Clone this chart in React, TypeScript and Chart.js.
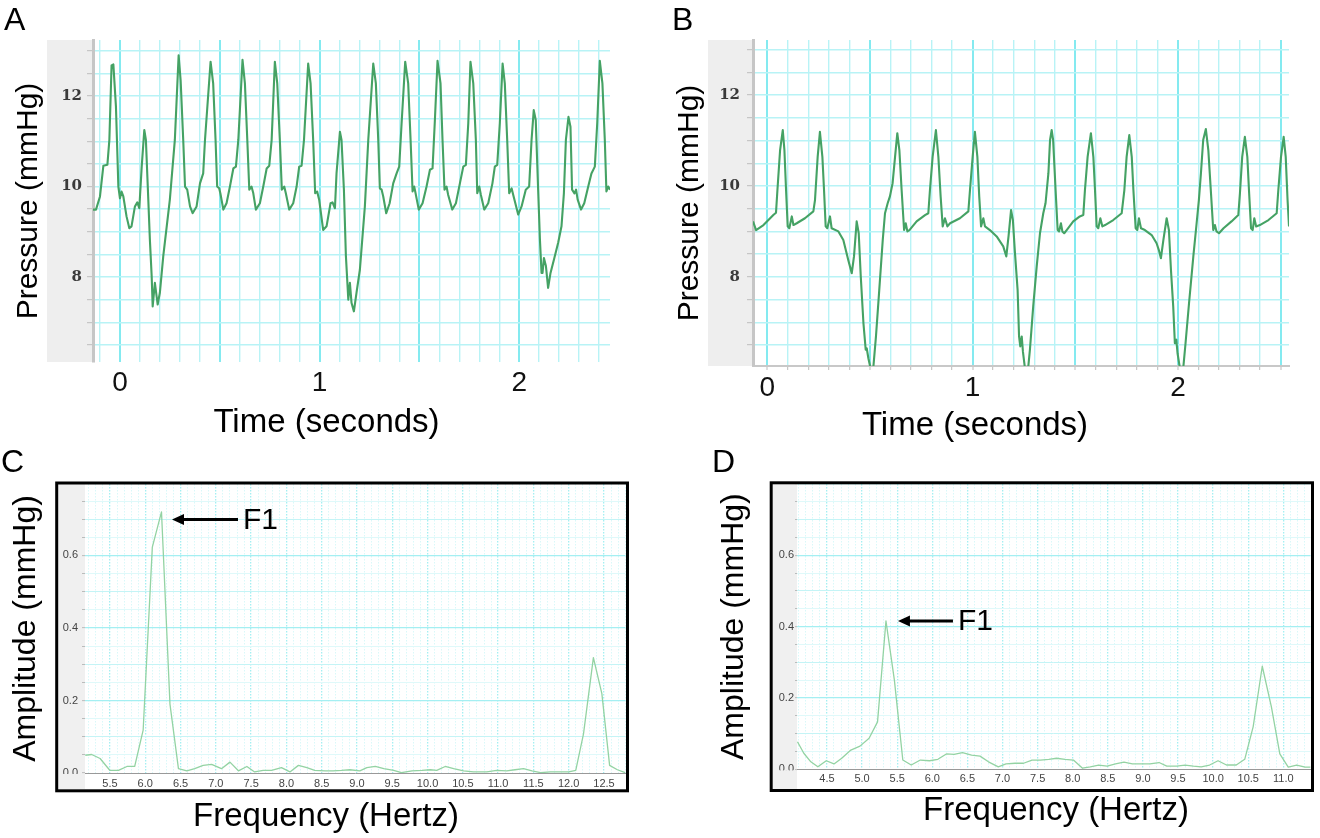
import React, { useEffect, useRef } from 'react';
import { Chart, registerables } from 'chart.js';

Chart.register(...registerables);

const SANS = '"Liberation Sans", Arial, Helvetica, sans-serif';
const SERIF = '"DejaVu Serif", Georgia, serif';

// ---------------- Panel A : pressure trace ----------------
const timeA = [
  -0.135, -0.12, -0.1, -0.083, -0.063, -0.053, -0.042, -0.033, -0.02, -0.008,
  0.0, 0.008, 0.017, 0.033, 0.047, 0.058, 0.075, 0.087, 0.097, 0.109,
  0.122, 0.13, 0.142, 0.15, 0.159, 0.164, 0.175, 0.189, 0.2, 0.217,
  0.25, 0.275, 0.294, 0.304, 0.317, 0.326, 0.337, 0.351, 0.364, 0.384,
  0.401, 0.417, 0.426, 0.454, 0.467, 0.479, 0.487, 0.497, 0.503, 0.518,
  0.534, 0.551, 0.568, 0.581, 0.593, 0.614, 0.626, 0.638, 0.648, 0.659,
  0.668, 0.681, 0.701, 0.718, 0.735, 0.748, 0.76, 0.776, 0.788, 0.801,
  0.811, 0.823, 0.831, 0.848, 0.868, 0.885, 0.898, 0.91, 0.922, 0.943,
  0.955, 0.968, 0.978, 0.988, 0.998, 1.018, 1.035, 1.055, 1.065, 1.077,
  1.085, 1.102, 1.11, 1.122, 1.132, 1.144, 1.152, 1.16, 1.172, 1.185,
  1.202, 1.227, 1.244, 1.269, 1.282, 1.294, 1.302, 1.311, 1.319, 1.334,
  1.351, 1.369, 1.386, 1.399, 1.411, 1.429, 1.444, 1.456, 1.466, 1.474,
  1.481, 1.497, 1.516, 1.536, 1.553, 1.566, 1.577, 1.591, 1.606, 1.616,
  1.626, 1.636, 1.644, 1.665, 1.683, 1.703, 1.72, 1.733, 1.745, 1.756,
  1.77, 1.783, 1.79, 1.8, 1.808, 1.825, 1.845, 1.866, 1.878, 1.89,
  1.903, 1.917, 1.928, 1.94, 1.95, 1.962, 1.97, 1.995, 2.012, 2.033,
  2.05, 2.062, 2.073, 2.083, 2.095, 2.104, 2.112, 2.117, 2.124, 2.134,
  2.145, 2.157, 2.174, 2.195, 2.212, 2.224, 2.234, 2.247, 2.257, 2.265,
  2.277, 2.285, 2.293, 2.31, 2.326, 2.346, 2.362, 2.379, 2.391, 2.404,
  2.417, 2.429, 2.437, 2.446, 2.455,
];
const pressureA = [
  9.49, 9.49, 9.78, 10.46, 10.48, 11.03, 12.68, 12.7, 11.76, 10.0,
  9.74, 9.89, 9.78, 9.34, 9.08, 9.12, 9.56, 9.65, 9.52, 10.44,
  11.25, 11.03, 9.71, 8.82, 8.01, 7.35, 7.87, 7.39, 7.65, 8.46,
  9.71, 11.03, 12.9, 12.35, 11.03, 10.0, 9.93, 9.56, 9.41, 9.56,
  10.07, 10.29, 11.03, 12.76, 12.28, 11.03, 10.0, 9.96, 9.85, 9.49,
  9.63, 10.0, 10.4, 10.44, 11.03, 12.8, 12.28, 11.03, 9.93, 10.0,
  9.85, 9.49, 9.63, 10.0, 10.4, 10.46, 11.03, 12.76, 12.28, 11.03,
  9.93, 10.0, 9.85, 9.49, 9.63, 10.0, 10.44, 10.46, 11.03, 12.72,
  12.28, 11.03, 9.85, 9.89, 9.71, 9.04, 9.12, 9.63, 9.65, 9.52,
  10.29, 11.21, 11.03, 9.93, 8.46, 7.5, 7.87, 7.43, 7.24, 7.65,
  8.16, 9.56, 11.03, 12.72, 12.28, 11.03, 9.96, 9.93, 9.78, 9.41,
  9.63, 10.07, 10.29, 10.44, 11.4, 12.76, 12.28, 11.03, 9.89, 10.0,
  9.85, 9.49, 9.63, 10.0, 10.37, 10.4, 11.4, 12.78, 12.28, 11.03,
  9.93, 10.0, 9.82, 9.49, 9.63, 10.07, 10.44, 10.48, 11.4, 12.76,
  12.28, 11.03, 9.85, 10.0, 9.82, 9.49, 9.63, 10.07, 10.44, 10.48,
  11.4, 12.72, 12.28, 11.03, 9.85, 9.96, 9.82, 9.38, 9.56, 9.93,
  10.0, 11.03, 11.69, 11.47, 9.93, 8.82, 8.09, 8.09, 8.42, 8.24,
  7.76, 8.09, 8.38, 8.75, 9.12, 9.85, 11.03, 11.54, 11.32, 9.93,
  9.85, 9.93, 9.71, 9.49, 9.63, 10.0, 10.29, 10.44, 11.4, 12.78,
  12.28, 11.03, 9.89, 10.0, 9.93,
];

// ---------------- Panel B : pressure trace ----------------
const timeB = [
  -0.07, -0.055, -0.019, 0.029, 0.042, 0.049, 0.062, 0.075, 0.083, 0.091,
  0.099, 0.107, 0.119, 0.127, 0.143, 0.183, 0.224, 0.232, 0.245, 0.256,
  0.268, 0.276, 0.284, 0.292, 0.305, 0.313, 0.346, 0.37, 0.394, 0.411,
  0.422, 0.435, 0.445, 0.455, 0.468, 0.479, 0.484, 0.492, 0.503, 0.516,
  0.529, 0.545, 0.562, 0.573, 0.586, 0.597, 0.61, 0.622, 0.633, 0.643,
  0.654, 0.666, 0.674, 0.682, 0.692, 0.727, 0.768, 0.784, 0.792, 0.805,
  0.821, 0.833, 0.844, 0.854, 0.865, 0.877, 0.89, 0.938, 0.979, 0.987,
  1.0, 1.011, 1.023, 1.032, 1.041, 1.052, 1.06, 1.084, 1.117, 1.149,
  1.164, 1.175, 1.187, 1.196, 1.205, 1.219, 1.226, 1.232, 1.239, 1.245,
  1.255, 1.27, 1.279, 1.295, 1.312, 1.328, 1.344, 1.355, 1.369, 1.377,
  1.385, 1.392, 1.404, 1.414, 1.421, 1.43, 1.437, 1.446, 1.458, 1.49,
  1.522, 1.539, 1.547, 1.56, 1.576, 1.588, 1.596, 1.604, 1.612, 1.622,
  1.632, 1.645, 1.685, 1.726, 1.739, 1.75, 1.763, 1.775, 1.783, 1.794,
  1.802, 1.81, 1.82, 1.839, 1.872, 1.896, 1.907, 1.917, 1.929, 1.945,
  1.956, 1.966, 1.977, 1.985, 1.992, 1.998, 2.01, 2.026, 2.037, 2.054,
  2.075, 2.091, 2.102, 2.112, 2.123, 2.136, 2.148, 2.161, 2.172, 2.18,
  2.188, 2.2, 2.222, 2.261, 2.294, 2.302, 2.313, 2.326, 2.338, 2.346,
  2.356, 2.364, 2.372, 2.381, 2.399, 2.441, 2.481, 2.489, 2.502, 2.515,
  2.525, 2.534, 2.541,
];
const pressureB = [
  9.22, 9.03, 9.14, 9.36, 9.41, 9.91, 10.79, 11.23, 10.79, 9.91,
  9.11, 9.07, 9.33, 9.14, 9.18, 9.29, 9.44, 9.69, 10.64, 11.19,
  10.64, 9.91, 9.11, 9.07, 9.33, 9.07, 9.0, 8.81, 8.37, 8.08,
  8.45, 9.22, 8.96, 8.01, 6.98, 6.4, 6.43, 6.21, 5.98, 6.0,
  6.69, 7.71, 8.81, 9.4, 9.62, 9.77, 10.06, 10.64, 11.16, 10.79,
  9.91, 9.03, 9.18, 9.0, 9.03, 9.22, 9.36, 9.4, 9.91, 10.64,
  11.23, 10.64, 9.77, 9.11, 9.29, 9.11, 9.18, 9.29, 9.44, 9.91,
  10.64, 11.19, 10.64, 9.77, 9.11, 9.29, 9.11, 9.03, 8.89, 8.67,
  8.45, 8.9, 9.47, 9.25, 8.6, 7.71, 6.69, 6.47, 6.69, 6.35,
  5.98, 5.98, 6.4, 7.35, 8.23, 8.96, 9.4, 9.62, 10.28, 11.01,
  11.23, 11.01, 9.91, 9.03, 9.0, 9.18, 9.0, 8.96, 9.03, 9.22,
  9.33, 9.36, 9.91, 10.64, 11.16, 10.64, 9.91, 9.11, 9.07, 9.29,
  9.11, 9.14, 9.25, 9.4, 9.91, 10.64, 11.12, 10.64, 9.91, 9.07,
  9.03, 9.29, 9.07, 9.03, 8.92, 8.74, 8.59, 8.41, 8.81, 9.29,
  9.03, 8.15, 7.35, 6.54, 6.62, 6.32, 5.98, 6.0, 6.54, 7.42,
  8.45, 9.18, 9.69, 10.28, 11.01, 11.25, 10.79, 9.84, 9.03, 9.14,
  9.0, 8.96, 9.07, 9.22, 9.36, 9.84, 10.64, 11.08, 10.64, 9.91,
  9.07, 9.03, 9.29, 9.11, 9.14, 9.25, 9.4, 9.91, 10.64, 11.08,
  10.64, 9.69, 9.11,
];

// ---------------- Panel C : spectrum ----------------
const freqC = [
  5.15, 5.24, 5.36, 5.5, 5.62, 5.74, 5.85, 5.97, 6.1, 6.23,
  6.35, 6.47, 6.59, 6.7, 6.82, 6.94, 7.08, 7.2, 7.32, 7.44,
  7.55, 7.67, 7.79, 7.93, 8.05, 8.17, 8.29, 8.4, 8.55, 8.66,
  8.78, 8.9, 9.04, 9.14, 9.26, 9.38, 9.52, 9.63, 9.78, 9.92,
  10.04, 10.13, 10.25, 10.37, 10.51, 10.65, 10.84, 10.98, 11.12, 11.24,
  11.36, 11.48, 11.6, 11.74, 11.88, 12.0, 12.1, 12.21, 12.35, 12.47,
  12.58, 12.69, 12.8,
];
const ampC = [
  0.049, 0.051, 0.04, 0.007, 0.007, 0.018, 0.018, 0.118, 0.623, 0.72,
  0.19, 0.012, 0.006, 0.012, 0.021, 0.024, 0.012, 0.03, 0.006, 0.018,
  0.003, 0.007, 0.007, 0.015, 0.003, 0.021, 0.015, 0.007, 0.006, 0.006,
  0.007, 0.009, 0.006, 0.015, 0.018, 0.012, 0.007, 0.001, 0.006, 0.007,
  0.009, 0.007, 0.018, 0.012, 0.006, 0.003, 0.003, 0.007, 0.006, 0.009,
  0.012, 0.006, 0.001, 0.003, 0.003, 0.003, 0.007, 0.108, 0.318, 0.219,
  0.021, 0.009, 0.001,
];

// ---------------- Panel D : spectrum ----------------
const freqD = [
  4.08, 4.17, 4.27, 4.37, 4.49, 4.6, 4.71, 4.84, 4.97, 5.1,
  5.22, 5.34, 5.46, 5.58, 5.7, 5.83, 5.96, 6.08, 6.2, 6.31,
  6.43, 6.56, 6.68, 6.8, 6.94, 7.05, 7.18, 7.3, 7.42, 7.54,
  7.66, 7.77, 7.89, 8.01, 8.14, 8.25, 8.37, 8.49, 8.61, 8.73,
  8.85, 8.98, 9.1, 9.23, 9.34, 9.48, 9.6, 9.72, 9.83, 9.95,
  10.07, 10.19, 10.33, 10.45, 10.57, 10.7, 10.83, 10.95, 11.07, 11.19,
  11.31, 11.39,
];
const ampD = [
  0.077, 0.045, 0.021, 0.007, 0.024, 0.015, 0.031, 0.054, 0.065, 0.087,
  0.133, 0.416, 0.25, 0.026, 0.012, 0.026, 0.024, 0.028, 0.043, 0.042,
  0.047, 0.04, 0.037, 0.021, 0.007, 0.015, 0.017, 0.017, 0.026, 0.026,
  0.028, 0.031, 0.028, 0.026, 0.003, 0.007, 0.012, 0.009, 0.015, 0.02,
  0.015, 0.015, 0.015, 0.019, 0.009, 0.009, 0.012, 0.009, 0.007, 0.012,
  0.024, 0.012, 0.012, 0.028, 0.119, 0.289, 0.175, 0.043, 0.006, 0.012,
  0.006, 0.006,
];

// ---------------- tick labels ----------------
const pressureLabels = [8, 10, 12];
const timeLabels = [0, 1, 2];
const ampLabels = [0, 0.2, 0.4, 0.6];
const freqLabelsC = [5.5, 6.0, 6.5, 7.0, 7.5, 8.0, 8.5, 9.0, 9.5, 10.0, 10.5, 11.0, 11.5, 12.0, 12.5];
const freqLabelsD = [4.5, 5.0, 5.5, 6.0, 6.5, 7.0, 7.5, 8.0, 8.5, 9.0, 9.5, 10.0, 10.5, 11.0];

const near = (a: number, b: number) => Math.abs(a - b) < 1e-6;
const isMult = (v: number, m: number) => Math.abs(v / m - Math.round(v / m)) < 1e-6;

function gridTicks(min: number, max: number, step: number) {
  const out: { value: number }[] = [];
  for (let k = Math.ceil(min / step - 1e-9); k * step <= max + 1e-9; k++) {
    out.push({ value: Math.round(k * step * 1e6) / 1e6 });
  }
  return out;
}

type Decor = {
  stripX: number;
  stripColor: string;
  stripTop?: number;
  stripBottom?: number;
  box?: { x: number; y: number; w: number; h: number; lw: number };
  caption: { text: string; x: number; y: number; size: number };
  coverZero?: boolean;
  arrow?: { dx: number; dy: number; len: number; gap: number; text: string; size: number };
};

function decorPlugin(d: Decor) {
  return {
    id: 'panelDecor',
    beforeDraw(chart: any) {
      const { ctx, chartArea } = chart;
      const top = d.stripTop ?? chartArea.top;
      const bottom = d.stripBottom ?? chartArea.bottom;
      ctx.save();
      ctx.fillStyle = d.stripColor;
      ctx.fillRect(d.stripX, top, chartArea.left - d.stripX, bottom - top);
      ctx.restore();
    },
    afterDatasetsDraw(chart: any) {
      if (!d.arrow) return;
      const a = d.arrow;
      const pts = chart.data.datasets[0].data;
      let best = pts[0];
      for (const p of pts) if (p.y > best.y) best = p;
      const px = chart.scales.x.getPixelForValue(best.x) + a.dx;
      const py = chart.scales.y.getPixelForValue(best.y) + a.dy;
      const ctx = chart.ctx;
      ctx.save();
      ctx.strokeStyle = '#000';
      ctx.fillStyle = '#000';
      ctx.lineWidth = 3;
      ctx.beginPath();
      ctx.moveTo(px + 8, py);
      ctx.lineTo(px + a.len, py);
      ctx.stroke();
      ctx.beginPath();
      ctx.moveTo(px, py);
      ctx.lineTo(px + 12, py - 5.5);
      ctx.lineTo(px + 12, py + 5.5);
      ctx.closePath();
      ctx.fill();
      ctx.font = `${a.size}px ${SANS}`;
      ctx.textAlign = 'left';
      ctx.textBaseline = 'middle';
      ctx.fillText(a.text, px + a.len + a.gap, py + 1);
      ctx.restore();
    },
    afterDraw(chart: any) {
      const { ctx, chartArea } = chart;
      ctx.save();
      if (d.coverZero) {
        ctx.fillStyle = d.stripColor;
        ctx.fillRect(d.stripX, chartArea.bottom + 1, chartArea.left - d.stripX - 1, 9);
      }
      ctx.fillStyle = '#000';
      ctx.font = `${d.caption.size}px ${SANS}`;
      ctx.textAlign = 'center';
      ctx.textBaseline = 'middle';
      ctx.fillText(d.caption.text, d.caption.x, d.caption.y);
      if (d.box) {
        ctx.strokeStyle = '#000';
        ctx.lineWidth = d.box.lw;
        ctx.strokeRect(d.box.x, d.box.y, d.box.w, d.box.h);
      }
      ctx.restore();
    },
  };
}

type AxisSpec = {
  min: number;
  max: number;
  step: number;
  labels: number[];
  fmt: (v: number) => string;
  gridColor: (v: number) => string;
  gridWidth: (v: number) => number;
  tickFont: any;
  tickColor: string;
  tickPad: number;
  tickLen: number;
  tickMarkColor: string;
  border: any;
  size: number;
  title?: { text: string; size: number };
};

type PanelSpec = {
  xs: number[];
  ys: number[];
  line: { color: string; width: number };
  padding: { left: number; top: number; right: number; bottom: number };
  x: AxisSpec;
  y: AxisSpec;
  decor: Decor;
};

function axisOptions(a: AxisSpec, horizontal: boolean) {
  return {
    type: 'linear',
    bounds: 'data',
    min: a.min,
    max: a.max,
    afterBuildTicks: (sc: any) => {
      sc.ticks = gridTicks(a.min, a.max, a.step);
    },
    afterFit: (sc: any) => {
      if (horizontal) sc.height = a.size;
      else sc.width = a.size;
    },
    ticks: {
      autoSkip: false,
      maxRotation: 0,
      minRotation: 0,
      padding: a.tickPad,
      color: a.tickColor,
      font: a.tickFont,
      callback: (v: any) => (a.labels.some((l) => near(l, Number(v))) ? a.fmt(Number(v)) : ''),
    },
    grid: {
      color: (c: any) => (c.tick ? a.gridColor(c.tick.value) : 'transparent'),
      lineWidth: (c: any) => (c.tick ? a.gridWidth(c.tick.value) : 1),
      drawTicks: a.tickLen > 0,
      tickLength: a.tickLen,
      tickColor: a.tickMarkColor,
      tickWidth: 1,
    },
    border: a.border,
    title: a.title
      ? {
          display: true,
          text: a.title.text,
          color: '#000',
          font: { family: SANS, size: a.title.size },
          padding: { top: 0, bottom: 0 },
        }
      : { display: false },
  };
}

function buildConfig(s: PanelSpec): any {
  const n = Math.min(s.xs.length, s.ys.length);
  const pts = [];
  for (let i = 0; i < n; i++) pts.push({ x: s.xs[i], y: s.ys[i] });
  return {
    type: 'line',
    data: {
      datasets: [
        {
          data: pts,
          borderColor: s.line.color,
          borderWidth: s.line.width,
          pointRadius: 0,
          pointHoverRadius: 0,
          tension: 0,
          fill: false,
          borderJoinStyle: 'round',
        },
      ],
    },
    options: {
      responsive: false,
      maintainAspectRatio: false,
      animation: false,
      devicePixelRatio: 1,
      events: [],
      layout: { padding: s.padding },
      plugins: { legend: { display: false }, tooltip: { enabled: false }, title: { display: false } },
      scales: { x: axisOptions(s.x, true), y: axisOptions(s.y, false) },
    },
    plugins: [decorPlugin(s.decor)],
  };
}

// ---------- shared styles ----------
const CYAN_MAJOR = '#84eaf0';
const CYAN_MINOR = '#b8f3f6';
const fmtInt = (v: number) => String(Math.round(v));
const fmt1 = (v: number) => v.toFixed(1);

const pressureY = (min: number, max: number, size: number, pad: number): AxisSpec => ({
  min,
  max,
  step: 0.5,
  labels: pressureLabels,
  fmt: fmtInt,
  gridColor: () => CYAN_MINOR,
  gridWidth: () => 1.4,
  tickFont: { family: SERIF, size: 15, weight: 'bold' },
  tickColor: '#3a3a3a',
  tickPad: pad,
  tickLen: 6,
  tickMarkColor: '#bdbdbd',
  border: { display: true, color: '#c6c6c6', width: 3 },
  size,
  title: { text: 'Pressure (mmHg)', size: 30 },
});

const timeX = (min: number, max: number, pad: number, len: number, border: any): AxisSpec => ({
  min,
  max,
  step: 0.1,
  labels: timeLabels,
  fmt: fmtInt,
  gridColor: (v) => (isMult(v, 0.5) ? CYAN_MAJOR : CYAN_MINOR),
  gridWidth: (v) => (isMult(v, 0.5) ? 2 : 1.4),
  tickFont: { family: SANS, size: 28 },
  tickColor: '#111',
  tickPad: pad,
  tickLen: len,
  tickMarkColor: '#bbbbbb',
  border,
  size: 40,
});

const freqX = (min: number, max: number, labels: number[], pad: number): AxisSpec => ({
  min,
  max,
  step: 0.1,
  labels,
  fmt: fmt1,
  gridColor: (v) => (isMult(v, 0.5) ? '#a4eff2' : '#d9f8f9'),
  gridWidth: (v) => (isMult(v, 0.5) ? 1.3 : 1),
  tickFont: { family: SANS, size: 11 },
  tickColor: '#444',
  tickPad: pad,
  tickLen: 0,
  tickMarkColor: '#bbb',
  border: { display: true, color: '#999', width: 1, dash: [1.5, 1.5] },
  size: 30,
});

const ampY = (max: number, size: number, pad: number, len: number): AxisSpec => ({
  min: 0,
  max,
  step: 0.05,
  labels: ampLabels,
  fmt: fmt1,
  gridColor: (v) => (v < 1e-6 ? 'transparent' : isMult(v, 0.2) ? '#a4eff2' : isMult(v, 0.1) ? '#c4f4f6' : '#dff9fa'),
  gridWidth: (v) => (isMult(v, 0.2) ? 1.3 : 1),
  tickFont: { family: SANS, size: 11 },
  tickColor: '#444',
  tickPad: pad,
  tickLen: len,
  tickMarkColor: '#bbbbbb',
  border: { display: false },
  size,
  title: { text: 'Amplitude (mmHg)', size: 32 },
});

const specA: PanelSpec = {
  xs: timeA,
  ys: pressureA,
  line: { color: '#45a264', width: 2.1 },
  padding: { left: 10.3, top: 40, right: 30, bottom: 43 },
  x: timeX(-0.135, 2.455, 4, 0, { display: false }),
  y: pressureY(6.12, 13.24, 82.7, 5),
  decor: { stripX: 47, stripColor: '#eeeeee', caption: { text: 'Time (seconds)', x: 326.5, y: 422.5, size: 33 } },
};

const specB: PanelSpec = {
  xs: timeB,
  ys: pressureB,
  line: { color: '#45a264', width: 2.1 },
  padding: { left: 12, top: 40, right: 31, bottom: 39 },
  x: timeX(-0.07, 2.541, 1, 4, { display: true, color: '#c8c8c8', width: 2 }),
  y: pressureY(6.04, 13.21, 81, 7),
  decor: { stripX: 48, stripColor: '#eeeeee', caption: { text: 'Time (seconds)', x: 315, y: 426, size: 33 } },
};

const specC: PanelSpec = {
  xs: freqC,
  ys: ampC,
  line: { color: '#93d3a3', width: 1.3 },
  padding: { left: 6.5, top: 39, right: 34.5, bottom: 35 },
  x: freqX(5.146, 12.805, freqLabelsC, 4),
  y: ampY(0.797, 78.5, 4, 3),
  decor: {
    stripX: 58,
    stripColor: '#f0f0f0',
    stripTop: 39,
    stripBottom: 344,
    box: { x: 56.7, y: 38, w: 570.8, h: 307.8, lw: 3 },
    caption: { text: 'Frequency (Hertz)', x: 326, y: 372, size: 33 },
    coverZero: true,
    arrow: { dx: 10.5, dy: 7.5, len: 66, gap: 5, text: 'F1', size: 30 },
  },
};

const specD: PanelSpec = {
  xs: freqD,
  ys: ampD,
  line: { color: '#93d3a3', width: 1.3 },
  padding: { left: 55, top: 39, right: 9.5, bottom: 38.7 },
  x: freqX(4.073, 11.387, freqLabelsD, 3),
  y: ampY(0.8, 82, 1, 2),
  decor: {
    stripX: 113,
    stripColor: '#f0f0f0',
    stripTop: 39,
    stripBottom: 344,
    box: { x: 111.2, y: 37.8, w: 541.3, h: 307.7, lw: 3 },
    caption: { text: 'Frequency (Hertz)', x: 396, y: 366, size: 33 },
    coverZero: true,
    arrow: { dx: 12, dy: 0, len: 55, gap: 5, text: 'F1', size: 30 },
  },
};

function ChartCanvas(props: { left: number; top: number; width: number; height: number; spec: PanelSpec }) {
  const ref = useRef<HTMLCanvasElement>(null);
  useEffect(() => {
    const chart = new Chart(ref.current as HTMLCanvasElement, buildConfig(props.spec));
    return () => chart.destroy();
  }, []);
  return (
    <canvas
      ref={ref}
      width={props.width}
      height={props.height}
      style={{ position: 'absolute', left: props.left, top: props.top, width: props.width, height: props.height }}
    />
  );
}

const panelLetters = [
  { text: 'A', left: 4, top: 2.5 },
  { text: 'B', left: 672, top: 2.5 },
  { text: 'C', left: 1, top: 445 },
  { text: 'D', left: 712, top: 445 },
];

export default function App() {
  return (
    <div style={{ position: 'absolute', left: 0, top: 0, width: 1320, height: 838, background: '#fff', overflow: 'hidden' }}>
      <ChartCanvas left={0} top={0} width={640} height={445} spec={specA} />
      <ChartCanvas left={660} top={0} width={660} height={445} spec={specB} />
      <ChartCanvas left={0} top={445} width={660} height={393} spec={specC} />
      <ChartCanvas left={660} top={445} width={660} height={393} spec={specD} />
      {panelLetters.map((l) => (
        <div
          key={l.text}
          style={{
            position: 'absolute',
            left: l.left,
            top: l.top,
            fontFamily: SANS,
            fontSize: 32,
            lineHeight: '32px',
            color: '#000',
          }}
        >
          {l.text}
        </div>
      ))}
    </div>
  );
}
